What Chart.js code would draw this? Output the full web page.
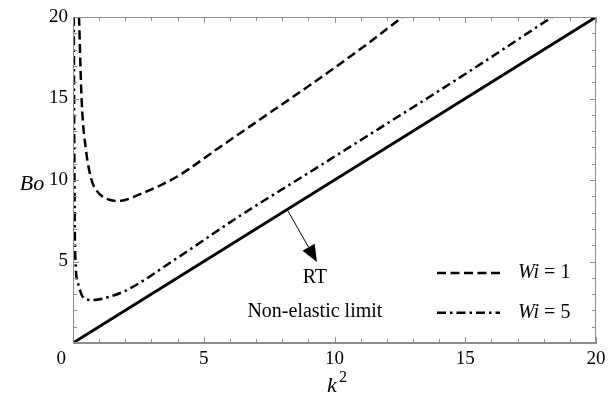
<!DOCTYPE html>
<html>
<head>
<meta charset="utf-8">
<script src="https://cdn.jsdelivr.net/npm/chart.js@4.4.1/dist/chart.umd.min.js"></script>
<style>
  html, body { margin: 0; padding: 0; background: #fff; }
  #wrap { width: 610px; height: 397px; }
</style>
</head>
<body>
<div id="wrap"><canvas id="chart" width="610" height="397"></canvas></div>
<script>
// values (k^2, Bo)
const rtK2 = [0, 20];
const rtBo = [0, 20];

const wi1K2 = [0.23, 0.33, 0.5, 0.71, 0.88, 1.15, 1.72, 2.67, 3.97, 5.6, 7.5, 9.4, 11.3, 12.6];
const wi1Bo = [20, 14.9, 11.8, 10.0, 9.4, 8.96, 8.71, 9.2, 10.2, 12.0, 14.1, 16.2, 18.4, 20];

const wi5K2 = [0.03, 0.05, 0.08, 0.19, 0.38, 0.73, 1.2, 2.06, 3.97, 6.26, 9.43, 11.72, 15.0, 18.32];
const wi5Bo = [20, 12, 5.7, 3.68, 2.82, 2.64, 2.75, 3.25, 5.2, 7.67, 10.86, 13.17, 16.5, 20];

const xTicks = [0, 5, 10, 15, 20];
const yTicks = [5, 10, 15, 20];
const legendLabels = ["Wi = 1", "Wi = 5"];

const FRAME = "#8c8c8c";
const SERIF = "'Liberation Serif', 'DejaVu Serif', serif";

function pts(xs, ys) {
  return xs.map((x, i) => ({ x: x, y: ys[i] }));
}

const dashA = [9, 4.5];
const dashB = [9, 4, 2.5, 4];

// frame, inward ticks, arrow, labels and legend
const decorations = {
  id: "decorations",
  afterDraw(chart) {
    const ctx = chart.ctx;
    const a = chart.chartArea;
    const xs = chart.scales.x;
    const ys = chart.scales.y;

    ctx.save();
    ctx.strokeStyle = FRAME;
    ctx.lineWidth = 1;
    ctx.strokeRect(a.left + 0.5, a.top + 0.5, a.right - a.left - 1, a.bottom - a.top - 1);

    ctx.beginPath();
    for (let v = 0; v <= 20; v++) {
      const len = v % 5 === 0 ? 6 : 4;
      const px = Math.round(xs.getPixelForValue(v)) + 0.5;
      ctx.moveTo(px, a.bottom);
      ctx.lineTo(px, a.bottom - len);
      ctx.moveTo(px, a.top);
      ctx.lineTo(px, a.top + len);
      const py = Math.round(ys.getPixelForValue(v)) + 0.5;
      ctx.moveTo(a.left, py);
      ctx.lineTo(a.left + len, py);
      ctx.moveTo(a.right, py);
      ctx.lineTo(a.right - len, py);
    }
    ctx.stroke();
    ctx.restore();

    // arrow from the RT line
    const x0 = xs.getPixelForValue(8.22), y0 = ys.getPixelForValue(8.1);
    const x1 = xs.getPixelForValue(9.33), y1 = ys.getPixelForValue(4.97);
    const ang = Math.atan2(y1 - y0, x1 - x0);
    const headLen = 17, headW = 7;
    const bx = x1 - headLen * Math.cos(ang), by = y1 - headLen * Math.sin(ang);
    ctx.save();
    ctx.strokeStyle = "#000";
    ctx.fillStyle = "#000";
    ctx.lineWidth = 1;
    ctx.beginPath();
    ctx.moveTo(x0, y0);
    ctx.lineTo(bx, by);
    ctx.stroke();
    ctx.beginPath();
    ctx.moveTo(x1, y1);
    ctx.lineTo(bx + headW * Math.sin(ang), by - headW * Math.cos(ang));
    ctx.lineTo(bx - headW * Math.sin(ang), by + headW * Math.cos(ang));
    ctx.closePath();
    ctx.fill();

    // annotation text
    ctx.font = "20px " + SERIF;
    ctx.textAlign = "center";
    ctx.textBaseline = "middle";
    ctx.fillText("RT", xs.getPixelForValue(9.25), ys.getPixelForValue(4.0));
    ctx.fillText("Non-elastic limit", xs.getPixelForValue(9.25), ys.getPixelForValue(1.9));

    // legend
    const styles = [dashA, dashB];
    const legY = [ys.getPixelForValue(4.3), ys.getPixelForValue(1.85)];
    legendLabels.forEach((lab, i) => {
      ctx.save();
      ctx.lineWidth = 2.5;
      ctx.setLineDash(styles[i]);
      ctx.beginPath();
      ctx.moveTo(437, legY[i]);
      ctx.lineTo(500, legY[i]);
      ctx.stroke();
      ctx.restore();
      const parts = lab.split(" = ");
      let tx = 518;
      ctx.textAlign = "left";
      ctx.font = "italic 20px " + SERIF;
      ctx.fillText(parts[0], tx, legY[i]);
      tx += ctx.measureText(parts[0]).width;
      ctx.font = "20px " + SERIF;
      ctx.fillText(" = " + parts[1], tx, legY[i]);
    });

    // axis titles
    ctx.font = "italic 22px " + SERIF;
    ctx.textAlign = "center";
    ctx.fillText("Bo", 32, 184);
    ctx.fillText("k", 332, 386);
    ctx.font = "16px " + SERIF;
    ctx.fillText("2", 343, 378);
    ctx.restore();
  }
};

const ctx = document.getElementById("chart").getContext("2d");
new Chart(ctx, {
  type: "line",
  data: {
    datasets: [
      {
        label: "RT",
        data: pts(rtK2, rtBo),
        borderColor: "#000",
        borderWidth: 2.8,
        pointRadius: 0,
        tension: 0
      },
      {
        label: legendLabels[0],
        data: pts(wi1K2, wi1Bo),
        borderColor: "#000",
        borderWidth: 2.5,
        borderDash: dashA,
        pointRadius: 0,
        cubicInterpolationMode: "monotone"
      },
      {
        label: legendLabels[1],
        data: pts(wi5K2, wi5Bo),
        borderColor: "#000",
        borderWidth: 2.5,
        borderDash: dashB,
        pointRadius: 0,
        cubicInterpolationMode: "monotone"
      }
    ]
  },
  options: {
    responsive: false,
    animation: false,
    devicePixelRatio: 1,
    layout: { padding: { left: 0, top: 17, right: 14, bottom: 0 } },
    plugins: {
      legend: { display: false },
      tooltip: { enabled: false }
    },
    scales: {
      x: {
        type: "linear",
        min: 0,
        max: 20,
        afterFit(scale) {
          scale.height = 54;
          scale.paddingLeft = 0;
          scale.paddingRight = 0;
        },
        afterBuildTicks(scale) { scale.ticks = xTicks.map(v => ({ value: v })); },
        grid: { display: false, drawTicks: false },
        border: { display: true, color: FRAME },
        ticks: {
          maxRotation: 0,
          padding: 5,
          color: "#000",
          font: { family: SERIF, size: 19 },
          callback: v => (v === 0 ? "0     " : String(v))
        }
      },
      y: {
        type: "linear",
        min: 0,
        max: 20,
        afterFit(scale) {
          scale.width = 73;
          scale.paddingTop = 0;
          scale.paddingBottom = 0;
        },
        afterBuildTicks(scale) { scale.ticks = yTicks.map(v => ({ value: v })); },
        grid: { display: false, drawTicks: false },
        border: { display: true, color: FRAME },
        ticks: {
          padding: 5,
          color: "#000",
          font: { family: SERIF, size: 19 }
        }
      }
    }
  },
  plugins: [decorations]
});
</script>
</body>
</html>
